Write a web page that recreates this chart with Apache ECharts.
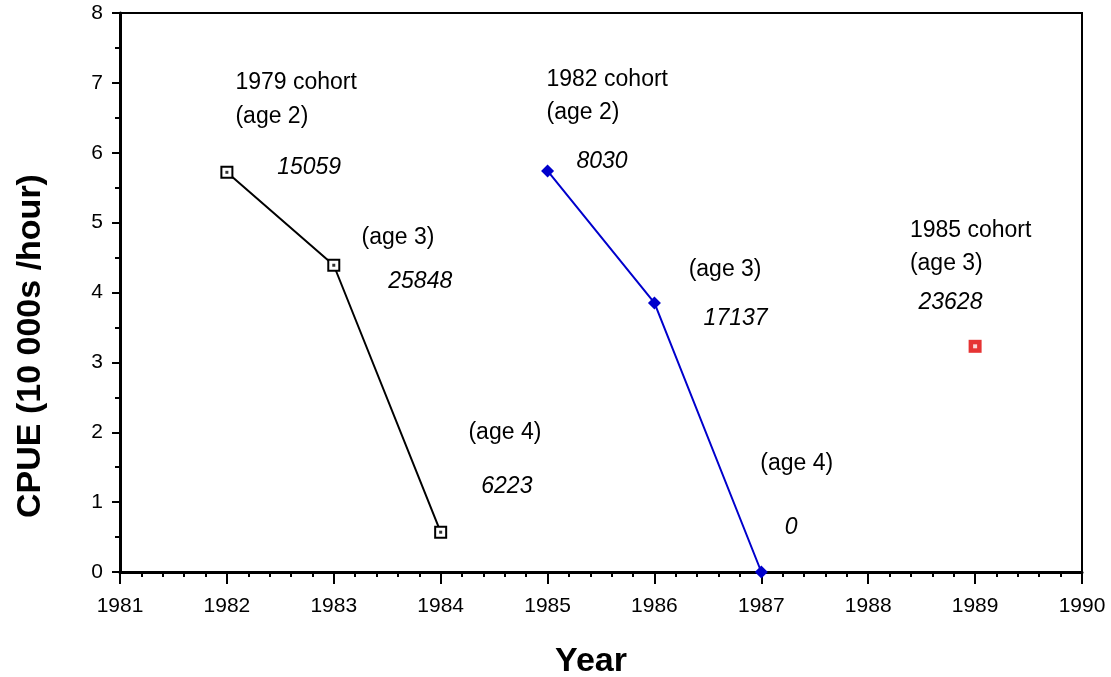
<!DOCTYPE html>
<html>
<head>
<meta charset="utf-8">
<script src="https://cdn.jsdelivr.net/npm/echarts@6/dist/echarts.min.js"></script>
<style>html,body{margin:0;padding:0;background:#fff}#c{width:1111px;height:677px}</style>
</head>
<body>
<div id="c"></div>
<script>
// Data
const years1979 = [1982, 1983, 1984];
const cpue1979 = [5.72, 4.39, 0.57];
const years1982 = [1985, 1986, 1987];
const cpue1982 = [5.74, 3.85, 0.0];
const years1985 = [1989];
const cpue1985 = [3.23];
const xTicks = [1981, 1982, 1983, 1984, 1985, 1986, 1987, 1988, 1989, 1990];
const yTicks = [0, 1, 2, 3, 4, 5, 6, 7, 8];
// Annotations: [text, year, value, italic]
const notes = [
  ["1979 cohort", 1982.08, 7.01, false],
  ["(age 2)", 1982.08, 6.52, false],
  ["15059", 1982.47, 5.79, true],
  ["(age 3)", 1983.26, 4.78, false],
  ["25848", 1983.51, 4.16, true],
  ["(age 4)", 1984.26, 2.0, false],
  ["6223", 1984.38, 1.22, true],
  ["1982 cohort", 1984.99, 7.04, false],
  ["(age 2)", 1984.99, 6.57, false],
  ["8030", 1985.27, 5.87, true],
  ["(age 3)", 1986.32, 4.32, false],
  ["17137", 1986.46, 3.62, true],
  ["(age 4)", 1986.99, 1.55, false],
  ["0", 1987.22, 0.63, true],
  ["1985 cohort", 1988.39, 4.89, false],
  ["(age 3)", 1988.39, 4.41, false],
  ["23628", 1988.47, 3.86, true]
];
const xTitle = 'Year';
const yTitle = 'CPUE (10 000s /hour)';

const zip = (xs, ys) => xs.map((x, i) => [x, ys[i]]);
const font = 'Arial, "Liberation Sans", Helvetica, sans-serif';

const chart = echarts.init(document.getElementById('c'), null, {renderer: 'canvas'});
chart.setOption({
  animation: false,
  backgroundColor: '#fff',
  grid: {left: 120, right: 29, top: 13, bottom: 105, show: true, borderColor: '#000', borderWidth: 2, backgroundColor: 'transparent'},
  graphic: [
    {type: 'text', x: 591, y: 662, style: {text: xTitle, font: 'bold 34px ' + font, fill: '#000', textAlign: 'center', textVerticalAlign: 'middle'}},
    {type: 'text', x: 31, y: 346, rotation: Math.PI / 2, style: {text: yTitle, font: 'bold 34px ' + font, fill: '#000', textAlign: 'center', textVerticalAlign: 'middle'}}
  ],
  xAxis: {
    type: 'value', min: xTicks[0], max: xTicks[xTicks.length - 1], interval: 1,
    axisLine: {show: true, lineStyle: {color: '#000', width: 3}},
    axisTick: {show: true, inside: false, length: 12, lineStyle: {color: '#000', width: 2}},
    minorTick: {show: true, splitNumber: 5, length: 5, lineStyle: {color: '#000', width: 2}},
    splitLine: {show: false},
    axisLabel: {fontFamily: font, fontSize: 21, color: '#000', margin: 24, formatter: v => String(v)}
  },
  yAxis: {
    type: 'value', min: yTicks[0], max: yTicks[yTicks.length - 1], interval: 1,
    axisLine: {show: true, lineStyle: {color: '#000', width: 3}},
    axisTick: {show: true, inside: false, length: 8, lineStyle: {color: '#000', width: 2}},
    minorTick: {show: true, splitNumber: 2, length: 5, lineStyle: {color: '#000', width: 2}},
    splitLine: {show: false},
    axisLabel: {fontFamily: font, fontSize: 21, color: '#000', margin: 17}
  },
  series: [
    {
      type: 'line', data: zip(years1979, cpue1979),
      lineStyle: {color: '#000', width: 2},
      symbol: 'rect', symbolSize: 11,
      itemStyle: {color: '#fff', borderColor: '#000', borderWidth: 2},
      z: 3
    },
    {
      type: 'scatter', data: zip(years1979, cpue1979),
      symbol: 'rect', symbolSize: 3, itemStyle: {color: '#000'}, z: 4
    },
    {
      type: 'line', data: zip(years1982, cpue1982),
      lineStyle: {color: '#0000cc', width: 2},
      symbol: 'diamond', symbolSize: 13, showAllSymbol: true,
      itemStyle: {color: '#0000cc'},
      z: 3
    },
    {
      type: 'scatter', data: zip(years1985, cpue1985),
      symbol: 'rect', symbolSize: 13, itemStyle: {color: '#e00000'}, z: 3
    },
    {
      type: 'scatter', data: zip(years1985, cpue1985),
      symbol: 'rect', symbolSize: 4, itemStyle: {color: '#fff'}, z: 4
    },
    {
      type: 'custom', silent: true, z: 5,
      data: notes.map(n => [n[1], n[2]]),
      renderItem: function (params, api) {
        const n = notes[params.dataIndex];
        const p = api.coord([api.value(0), api.value(1)]);
        return {
          type: 'text', x: p[0], y: p[1],
          style: {
            text: n[0], fill: '#000',
            font: (n[3] ? 'italic ' : '') + '23px ' + font,
            textAlign: 'left', textVerticalAlign: 'middle'
          }
        };
      }
    }
  ]
});
</script>
</body>
</html>
